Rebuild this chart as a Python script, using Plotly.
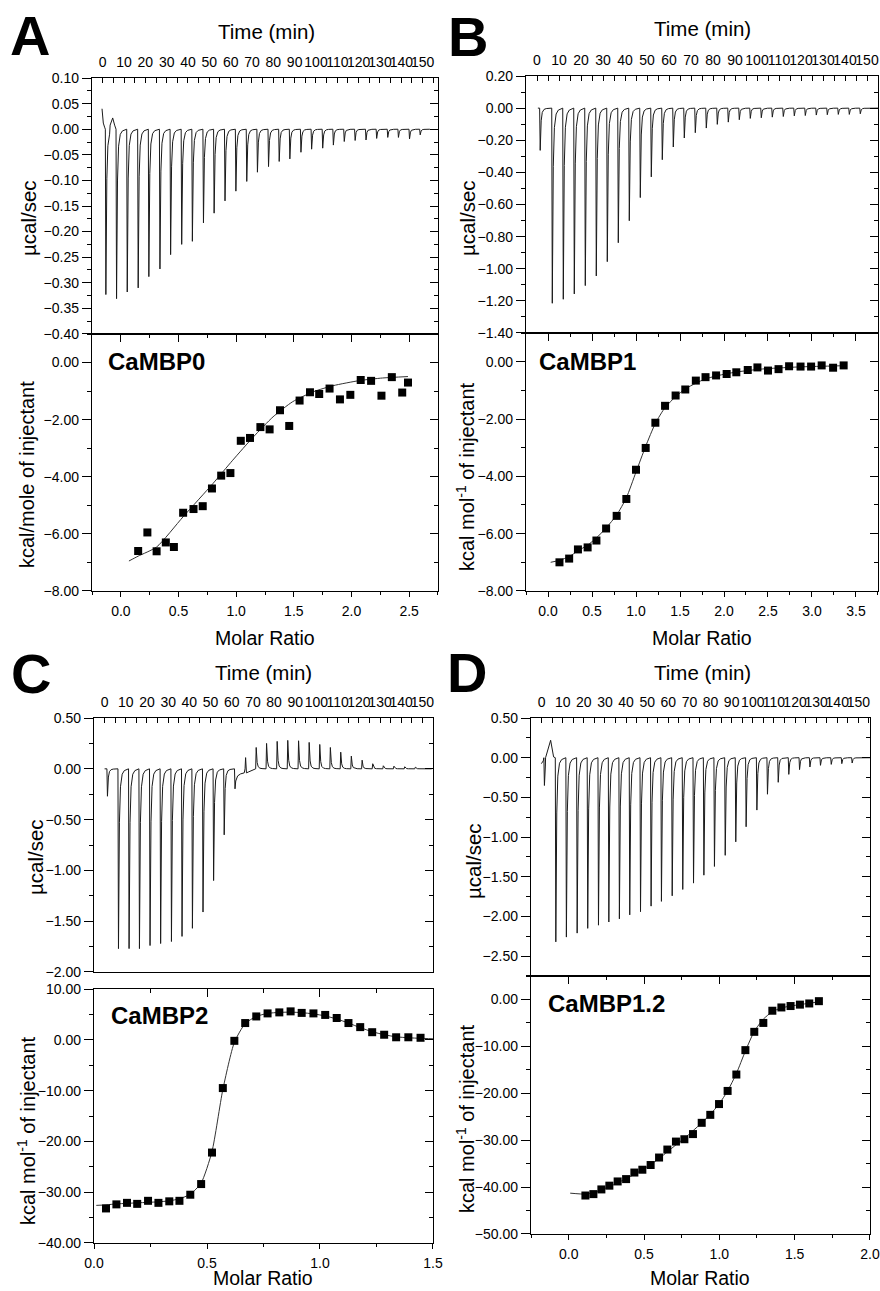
import plotly.graph_objects as go

FONT = "Liberation Sans, Arial, sans-serif"
W, H = 880, 1291

# ---------------- DATA ----------------
# Panel A : CaMBP0
a_inj_time = [1.25, 6.26, 11.27, 16.4, 21.4, 26.6, 31.6, 36.8, 41.8, 47.0, 52.0, 57.1, 62.2, 67.3, 72.3,
              77.5, 82.5, 87.5, 92.7, 97.7, 102.9, 107.9, 113.0, 118.1, 123.2, 128.2, 133.4, 138.4, 143.6, 148.6]
a_inj_peak = [-0.323, -0.331, -0.318, -0.310, -0.288, -0.273, -0.245, -0.225, -0.219, -0.183, -0.164, -0.140,
              -0.121, -0.102, -0.084, -0.073, -0.063, -0.058, -0.045, -0.039, -0.037, -0.031, -0.024, -0.022,
              -0.021, -0.018, -0.016, -0.016, -0.019, -0.011]
a_extra_time = [-0.3, 0.3, 0.9, 3.5, 4.7, 5.6]
a_extra_val = [0.040, 0.012, 0.004, 0.008, 0.022, 0.008]
a_end_time = 153.4
a_ratio = [0.15, 0.23, 0.31, 0.39, 0.46, 0.54, 0.63, 0.71, 0.79, 0.87, 0.95, 1.04, 1.12, 1.21, 1.29, 1.38,
           1.46, 1.55, 1.64, 1.72, 1.81, 1.90, 1.99, 2.08, 2.17, 2.26, 2.35, 2.44, 2.49]
a_heat = [-6.60, -5.95, -6.61, -6.30, -6.46, -5.26, -5.13, -5.03, -4.41, -3.96, -3.87, -2.74, -2.64, -2.26,
          -2.34, -1.67, -2.22, -1.33, -1.04, -1.10, -0.91, -1.29, -1.13, -0.61, -0.64, -1.16, -0.51, -1.05, -0.70]
a_fit_ratio = [0.07, 0.15, 0.31, 0.54, 0.80, 0.97, 1.15, 1.32, 1.49, 1.67, 1.84, 2.07, 2.27, 2.49]
a_fit_heat = [-6.95, -6.78, -6.46, -5.40, -4.23, -3.42, -2.60, -1.90, -1.37, -1.02, -0.81, -0.63, -0.54, -0.49]

# Panel B : CaMBP1
b_inj_time = [1.2, 6.7, 11.7, 16.7, 21.7, 26.7, 31.7, 36.7, 41.7, 46.7, 51.7, 56.7, 61.7, 66.7, 71.7,
              76.7, 81.7, 86.7, 91.7, 96.7, 101.7, 106.7, 111.7, 116.7, 121.7, 126.7, 131.7, 136.7, 141.7, 146.7]
b_inj_peak = [-0.263, -1.215, -1.19, -1.157, -1.105, -1.045, -0.956, -0.838, -0.701, -0.557, -0.428, -0.321,
              -0.242, -0.186, -0.153, -0.124, -0.101, -0.087, -0.072, -0.064, -0.060, -0.056, -0.052, -0.048,
              -0.046, -0.043, -0.041, -0.039, -0.039, -0.035]
b_extra_time = [0.4]
b_extra_val = [0.0]
b_end_time = 155.0
b_ratio = [0.13, 0.24, 0.34, 0.45, 0.55, 0.66, 0.78, 0.89, 1.00, 1.11, 1.22, 1.33, 1.45, 1.56, 1.68, 1.79,
           1.91, 2.03, 2.14, 2.27, 2.38, 2.50, 2.62, 2.74, 2.87, 2.99, 3.11, 3.24, 3.36]
b_heat = [-7.00, -6.87, -6.55, -6.48, -6.24, -5.82, -5.38, -4.79, -3.77, -3.01, -2.13, -1.54, -1.18, -0.97,
          -0.66, -0.54, -0.48, -0.43, -0.37, -0.29, -0.20, -0.31, -0.26, -0.16, -0.17, -0.17, -0.13, -0.21, -0.13]
b_fit_ratio = [0.03, 0.13, 0.24, 0.34, 0.45, 0.55, 0.66, 0.78, 0.89, 1.00, 1.11, 1.22, 1.33, 1.45, 1.56,
               1.68, 1.79, 1.91, 2.03, 2.14, 2.27, 2.38, 2.50, 2.62, 2.74, 2.87, 2.99, 3.11, 3.24, 3.36]
b_fit_heat = [-7.00, -6.93, -6.80, -6.60, -6.40, -6.15, -5.80, -5.35, -4.75, -3.85, -2.95, -2.15, -1.60,
              -1.22, -0.95, -0.75, -0.60, -0.50, -0.42, -0.36, -0.31, -0.27, -0.24, -0.22, -0.20, -0.18,
              -0.17, -0.16, -0.15, -0.14]

# Panel C : CaMBP2
c_inj_time = [1.1, 6.3, 11.3, 16.2, 21.2, 26.2, 31.3, 36.3, 41.2, 46.2, 51.2, 56.2, 61.3, 66.3, 71.3,
              76.2, 81.2, 86.2, 91.3, 96.3, 101.3, 106.3, 111.2, 116.2, 121.3, 126.3, 131.3, 136.3, 141.4, 146.4]
c_inj_peak = [-0.27, -1.77, -1.77, -1.77, -1.74, -1.72, -1.70, -1.65, -1.57, -1.41, -1.10, -0.65, -0.197,
              0.11, 0.21, 0.25, 0.27, 0.28, 0.276, 0.26, 0.24, 0.21, 0.164, 0.125, 0.085, 0.05, 0.03, 0.026,
              0.02, 0.016]
c_extra_time = [0.0, 61.9, 62.8, 64.2, 65.9, 66.95, 68.0, 69.8]
c_extra_val = [0.0, -0.12, -0.07, -0.05, -0.04, -0.04, -0.03, -0.01]
c_end_time = 154.4
c_ratio = [0.053, 0.099, 0.146, 0.191, 0.239, 0.285, 0.333, 0.378, 0.426, 0.474, 0.522, 0.570, 0.621, 0.669,
           0.718, 0.768, 0.820, 0.870, 0.919, 0.971, 1.023, 1.074, 1.126, 1.178, 1.231, 1.284, 1.337, 1.391, 1.445]
c_heat = [-33.2, -32.4, -32.1, -32.3, -31.7, -32.1, -31.8, -31.7, -30.5, -28.4, -22.2, -9.5, -0.2, 3.3,
          4.6, 5.2, 5.4, 5.6, 5.3, 5.2, 4.9, 4.3, 3.3, 2.5, 1.5, 1.0, 0.5, 0.5, 0.4]
c_fit_ratio = [0.01, 0.053, 0.099, 0.146, 0.191, 0.239, 0.285, 0.333, 0.378, 0.426, 0.474, 0.522, 0.570,
               0.621, 0.669, 0.718, 0.768, 0.820, 0.870, 0.919, 0.971, 1.023, 1.074, 1.126, 1.178, 1.231,
               1.284, 1.337, 1.391, 1.445, 1.50]
c_fit_heat = [-32.6, -32.5, -32.3, -32.2, -32.1, -32.0, -31.9, -31.7, -31.3, -30.4, -28.2, -22.0, -9.8,
              -0.5, 3.2, 4.6, 5.2, 5.4, 5.45, 5.35, 5.1, 4.7, 4.1, 3.3, 2.4, 1.6, 1.0, 0.6, 0.4, 0.3, 0.2]

# Panel D : CaMBP1.2
d_inj_time = [1.1, 6.5, 11.5, 16.6, 21.6, 26.7, 31.6, 36.6, 41.5, 46.6, 51.6, 56.5, 61.6, 66.6, 71.7,
              76.6, 81.6, 86.7, 91.7, 96.6, 101.7, 106.7, 111.8, 116.8, 121.9, 126.8, 131.8, 136.9, 141.9, 146.8]
d_inj_peak = [-0.35, -2.32, -2.26, -2.21, -2.15, -2.11, -2.07, -2.03, -1.98, -1.94, -1.87, -1.81, -1.74,
              -1.66, -1.58, -1.48, -1.37, -1.23, -1.06, -0.87, -0.66, -0.46, -0.31, -0.21, -0.15, -0.117,
              -0.096, -0.084, -0.075, -0.067]
d_extra_time = [-0.1, 0.8, 1.9, 4.3, 5.7]
d_extra_val = [-0.075, -0.04, 0.0, 0.22, 0.01]
d_end_time = 155.5
d_ratio = [0.111, 0.164, 0.217, 0.270, 0.325, 0.381, 0.436, 0.489, 0.544, 0.600, 0.655, 0.712, 0.768, 0.825,
           0.883, 0.940, 0.998, 1.055, 1.113, 1.173, 1.232, 1.292, 1.352, 1.412, 1.473, 1.535, 1.597, 1.661]
d_heat = [-41.8, -41.5, -40.5, -39.7, -38.8, -38.3, -36.9, -36.3, -35.3, -33.7, -32.0, -30.3, -29.8, -28.7,
          -26.3, -24.6, -22.3, -19.5, -16.0, -10.8, -6.9, -5.0, -2.4, -1.7, -1.4, -1.1, -0.85, -0.36]
d_fit_ratio = [0.01, 0.111, 0.164, 0.217, 0.270, 0.325, 0.381, 0.436, 0.489, 0.544, 0.600, 0.655, 0.712,
               0.768, 0.825, 0.883, 0.940, 0.998, 1.055, 1.113, 1.173, 1.232, 1.292, 1.352, 1.412, 1.473,
               1.535, 1.597, 1.661]
d_fit_heat = [-41.3, -41.5, -41.2, -40.6, -39.9, -39.1, -38.2, -37.3, -36.3, -35.2, -33.9, -32.5, -31.0,
              -29.6, -28.0, -26.3, -24.5, -22.3, -19.5, -15.8, -11.0, -6.8, -4.2, -2.6, -1.8, -1.4, -1.1,
              -0.8, -0.5]

panel_letters = ["A", "B", "C", "D"]
sample_names = ["CaMBP0", "CaMBP1", "CaMBP2", "CaMBP1.2"]
upper_titles = ["µcal/sec"] * 4
lower_titles = ["kcal/mole of injectant", "kcal mol<sup>-1</sup> of injectant",
                "kcal mol<sup>-1</sup> of injectant", "kcal mol<sup>-1</sup> of injectant"]

# ---------------- LAYOUT GEOMETRY (pixels) ----------------
P = [
    dict(x=(92, 438), up=(78, 334), lo=(334, 591), t_rng=(-5, 157.2), yu=(-0.40, 0.10, 0.05, 0.025),
         yl=(-8, 1, 2, 1), xl=(-0.25, 2.75, 0.5, 0.25),
         letter=(30, 36), time_t=(266, 31), yut=(28, 218), ylt=(27, 475), mr=(265, 638), name=(106, 362)),
    dict(x=(526, 878), up=(76, 333), lo=(333, 591), t_rng=(-5, 155), yu=(-1.40, 0.20, 0.2, 0.1),
         yl=(-8, 1, 2, 1), xl=(-0.25, 3.75, 0.5, 0.25),
         letter=(468, 37), time_t=(702, 29), yut=(467, 218), ylt=(465, 477), mr=(702, 638), name=(537, 362)),
    dict(x=(94, 433), up=(718, 972), lo=(989, 1243), t_rng=(-5, 155), yu=(-2.0, 0.5, 0.5, 0.25),
         yl=(-40, 10, 10, 5), xl=(0, 1.5, 0.5, 0.25),
         letter=(31, 673), time_t=(263, 672), yut=(35, 857), ylt=(26, 1131), mr=(263, 1278), name=(109, 1015)),
    dict(x=(531, 870), up=(718, 976), lo=(976, 1234), t_rng=(-5, 155.5), yu=(-2.75, 0.5, 0.5, 0.25),
         yl=(-50, 5, 10, 5), xl=(-0.25, 2.0, 0.5, 0.25),
         letter=(467, 672), time_t=(702, 672), yut=(473, 861), ylt=(465, 1119), mr=(700, 1278), name=(546, 1003)),
]

thermo = [
    (a_inj_time, a_inj_peak, a_extra_time, a_extra_val, a_end_time),
    (b_inj_time, b_inj_peak, b_extra_time, b_extra_val, b_end_time),
    (c_inj_time, c_inj_peak, c_extra_time, c_extra_val, c_end_time),
    (d_inj_time, d_inj_peak, d_extra_time, d_extra_val, d_end_time),
]
iso = [
    (a_ratio, a_heat, a_fit_ratio, a_fit_heat),
    (b_ratio, b_heat, b_fit_ratio, b_fit_heat),
    (c_ratio, c_heat, c_fit_ratio, c_fit_heat),
    (d_ratio, d_heat, d_fit_ratio, d_fit_heat),
]


def px_x(v):
    return v / W


def px_y(v):
    return 1 - v / H


def thermogram(inj_t, inj_p, extra_t, extra_v, t_end):
    shape_dt = [0.0, 0.25, 0.7, 1.2, 2.0, 3.0]
    shape_fr = [0.0, 1.0, 0.30, 0.10, 0.03, 0.01]
    pts = list(zip(extra_t, extra_v))
    ext_sorted = sorted(extra_t)
    for i, (t0, p) in enumerate(zip(inj_t, inj_p)):
        t_next = inj_t[i + 1] if i + 1 < len(inj_t) else t_end
        cands = [e for e in ext_sorted if t0 + shape_dt[1] < e < t_next]
        cut = min(cands) if cands else t_next
        for k, (dt, fr) in enumerate(zip(shape_dt, shape_fr)):
            t = t0 + dt
            if k >= 2 and t >= cut:
                break
            pts.append((t, p * fr))
    pts.append((t_end, 0.0))
    pts.sort(key=lambda q: q[0])
    return [q[0] for q in pts], [q[1] for q in pts]


def ref(letter, n):
    return letter if n == 1 else f"{letter}{n}"


def name(letter, n):
    return f"{letter}axis" if n == 1 else f"{letter}axis{n}"


AX_W = 1.3
TICKFONT = dict(family=FONT, size=14, color="black")

fig = go.Figure()
layout = dict(
    template="none",
    width=W, height=H, margin=dict(l=0, r=0, t=0, b=0, pad=0, autoexpand=False),
    paper_bgcolor="white", plot_bgcolor="white", showlegend=False,
    font=dict(family=FONT, color="black"),
)
annotations = []

for i, p in enumerate(P):
    nxU, nxL, nxLT = 3 * i + 1, 3 * i + 2, 3 * i + 3
    nyU, nyUR, nyL, nyLR = 4 * i + 1, 4 * i + 2, 4 * i + 3, 4 * i + 4
    xd = [px_x(p["x"][0]), px_x(p["x"][1])]
    yud = [px_y(p["up"][1]), px_y(p["up"][0])]
    yld = [px_y(p["lo"][1]), px_y(p["lo"][0])]
    eps_u = (p["yu"][1] - p["yu"][0]) * 1e-4
    eps_l = (p["yl"][1] - p["yl"][0]) * 1e-4
    eps_x = (p["xl"][1] - p["xl"][0]) * 1e-4
    yu_rng = [p["yu"][0] - eps_u, p["yu"][1] + eps_u]
    yl_rng = [p["yl"][0] - eps_l, p["yl"][1] + eps_l]
    xl_rng = [p["xl"][0] - eps_x, p["xl"][1] + eps_x]

    common = dict(showgrid=False, zeroline=False, linecolor="black", linewidth=AX_W,
                  tickcolor="black", tickwidth=AX_W, tickfont=TICKFONT, automargin=False,
                  tickangle=0, fixedrange=True)

    # upper: time axis on top
    layout[name("x", nxU)] = dict(common, domain=xd, anchor=ref("y", nyU), side="top",
                                  range=list(p["t_rng"]), tick0=0, dtick=10, ticks="inside", ticklen=5,
                                  minor=dict(tick0=0, dtick=5, ticks="inside", ticklen=5,
                                             tickcolor="black", tickwidth=AX_W, showgrid=False),
                                  showline=True, mirror=True, ticklabelstandoff=4,
                                  tickfont=dict(family=FONT, size=14, color="black"))
    layout[name("y", nyU)] = dict(common, domain=yud, anchor=ref("x", nxU), range=yu_rng,
                                  tick0=0, dtick=p["yu"][2], tickformat=".2f", ticks="outside", ticklen=9,
                                  minor=dict(tick0=0, dtick=p["yu"][3], ticks="outside", ticklen=4,
                                             tickcolor="black", tickwidth=AX_W, showgrid=False),
                                  showline=True, mirror=True)
    layout[name("y", nyUR)] = dict(common, overlaying=ref("y", nyU), anchor=ref("x", nxU), side="right",
                                   range=yu_rng, tick0=0, dtick=p["yu"][2], ticks="inside", ticklen=8,
                                   minor=dict(tick0=0, dtick=p["yu"][3], ticks="inside", ticklen=4,
                                              tickcolor="black", tickwidth=AX_W, showgrid=False),
                                   showticklabels=False, showline=False)
    # lower: molar ratio axis
    layout[name("x", nxL)] = dict(common, domain=xd, anchor=ref("y", nyL), side="bottom",
                                  range=xl_rng, tick0=0, dtick=p["xl"][2], tickformat=".1f",
                                  ticks="outside", ticklen=5, ticklabelstandoff=2,
                                  minor=dict(tick0=0, dtick=p["xl"][3], ticks="outside", ticklen=3,
                                             tickcolor="black", tickwidth=AX_W, showgrid=False),
                                  showline=True, mirror=True)
    layout[name("x", nxLT)] = dict(common, overlaying=ref("x", nxL), anchor=ref("y", nyL), side="top",
                                   range=xl_rng, tick0=0, dtick=p["xl"][2], ticks="inside", ticklen=8,
                                   minor=dict(tick0=0, dtick=p["xl"][3], ticks="inside", ticklen=4,
                                              tickcolor="black", tickwidth=AX_W, showgrid=False),
                                   showticklabels=False, showline=False)
    layout[name("y", nyL)] = dict(common, domain=yld, anchor=ref("x", nxL), range=yl_rng,
                                  tick0=0, dtick=p["yl"][2], tickformat=".2f", ticks="outside", ticklen=9,
                                  minor=dict(tick0=0, dtick=p["yl"][3], ticks="outside", ticklen=4,
                                             tickcolor="black", tickwidth=AX_W, showgrid=False),
                                  showline=True, mirror=True)
    layout[name("y", nyLR)] = dict(common, overlaying=ref("y", nyL), anchor=ref("x", nxL), side="right",
                                   range=yl_rng, tick0=0, dtick=p["yl"][2], ticks="inside", ticklen=8,
                                   minor=dict(tick0=0, dtick=p["yl"][3], ticks="inside", ticklen=4,
                                              tickcolor="black", tickwidth=AX_W, showgrid=False),
                                   showticklabels=False, showline=False)

    # traces
    tt, tv = thermogram(*thermo[i])
    fig.add_trace(go.Scatter(x=tt, y=tv, mode="lines", line=dict(color="#1a1a1a", width=1),
                             xaxis=ref("x", nxU), yaxis=ref("y", nyU), hoverinfo="skip"))
    r, h, fr, fh = iso[i]
    fig.add_trace(go.Scatter(x=fr, y=fh, mode="lines", line=dict(color="#333333", width=1,
                                                                  shape="spline", smoothing=0.6),
                             xaxis=ref("x", nxL), yaxis=ref("y", nyL), hoverinfo="skip"))
    fig.add_trace(go.Scatter(x=r, y=h, mode="markers",
                             marker=dict(symbol="square", size=8, color="black"),
                             xaxis=ref("x", nxL), yaxis=ref("y", nyL)))
    # invisible helper traces so the overlay (tick-only) axes get drawn
    fig.add_trace(go.Scatter(x=[tt[0]], y=[tv[0]], mode="markers", marker=dict(opacity=0),
                             xaxis=ref("x", nxU), yaxis=ref("y", nyUR), hoverinfo="skip"))
    fig.add_trace(go.Scatter(x=[r[0]], y=[h[0]], mode="markers", marker=dict(opacity=0),
                             xaxis=ref("x", nxL), yaxis=ref("y", nyLR), hoverinfo="skip"))
    fig.add_trace(go.Scatter(x=[r[0]], y=[h[0]], mode="markers", marker=dict(opacity=0),
                             xaxis=ref("x", nxLT), yaxis=ref("y", nyL), hoverinfo="skip"))

    # text
    def ann(text, xy, size, bold=False, angle=0, xanchor="center"):
        annotations.append(dict(text=f"<b>{text}</b>" if bold else text, x=px_x(xy[0]), y=px_y(xy[1]),
                                xref="paper", yref="paper", showarrow=False, textangle=angle,
                                xanchor=xanchor, yanchor="middle",
                                font=dict(family=FONT, size=size, color="black")))

    ann(panel_letters[i], p["letter"], 56, bold=True)
    ann("Time (min)", p["time_t"], 20.5)
    ann(upper_titles[i], p["yut"], 20.5, angle=-90)
    ann(lower_titles[i], p["ylt"], 20, angle=-90)
    ann("Molar Ratio", p["mr"], 19.5)
    ann(sample_names[i], p["name"], 24, bold=True, xanchor="left")

layout["annotations"] = annotations
fig.update_layout(**layout)
fig.write_html("out.html", config={"displayModeBar": False},
               post_script="document.body.style.margin='0';")
